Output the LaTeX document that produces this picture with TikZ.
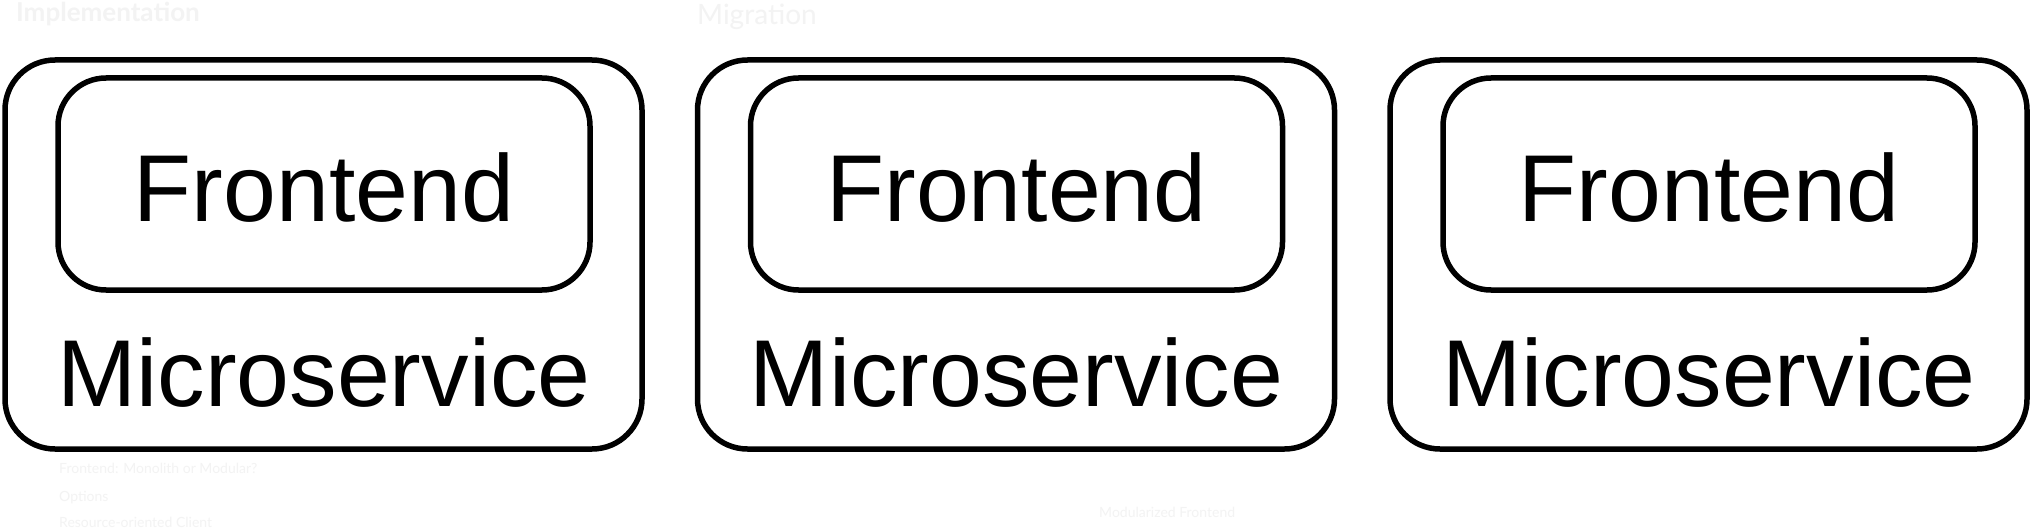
\documentclass[tikz,border=0pt]{standalone}
\usepackage{fontspec}
\setmainfont{Liberation Sans}
\newfontfamily\ghostfont{Lato}
\definecolor{ghost}{HTML}{F3F3F3}
\begin{document}
\begin{tikzpicture}[x=1pt,y=-1pt,
  outerbox/.style={draw=black,line width=5.5pt,rounded corners=50pt},
  innerbox/.style={draw=black,line width=5.5pt,rounded corners=48pt},
  bigtext/.style={anchor=base,inner sep=0pt,font=\fontsize{95}{100}\selectfont},
  ghosttext/.style={anchor=west,inner sep=0pt,text=ghost,font=\ghostfont\fontsize{14}{16}\selectfont}]
\useasboundingbox[fill=white] (0,0) rectangle (2041,532);
% faint background texts
\node[ghosttext,font=\ghostfont\bfseries\fontsize{26}{28}\selectfont] (g1) at (16,14) {Implementation};
\node[ghosttext,font=\ghostfont\fontsize{28}{30}\selectfont] (g2) at (697,17) {Migration};
\node[ghosttext] (g3) at (59,468) {Frontend: Monolith or Modular?};
\node[ghosttext] (g4) at (59,498) {Options};
\node[ghosttext] (g5) at (59,522) {Resource-oriented Client};
\node[ghosttext] (g6) at (1099,512) {Modularized Frontend};
\foreach \i/\dx in {1/0,2/692.5,3/1385}{
  \begin{scope}[xshift=\dx]
    \draw[outerbox] (5,60) rectangle (642,449);
    \draw[innerbox] (58,78) rectangle (590,290);
    \node[bigtext] (fe\i) at (324,221) {Frontend};
    \node[bigtext] (ms\i) at (324,406) {Microservice};
  \end{scope}
}
\end{tikzpicture}
\end{document}
